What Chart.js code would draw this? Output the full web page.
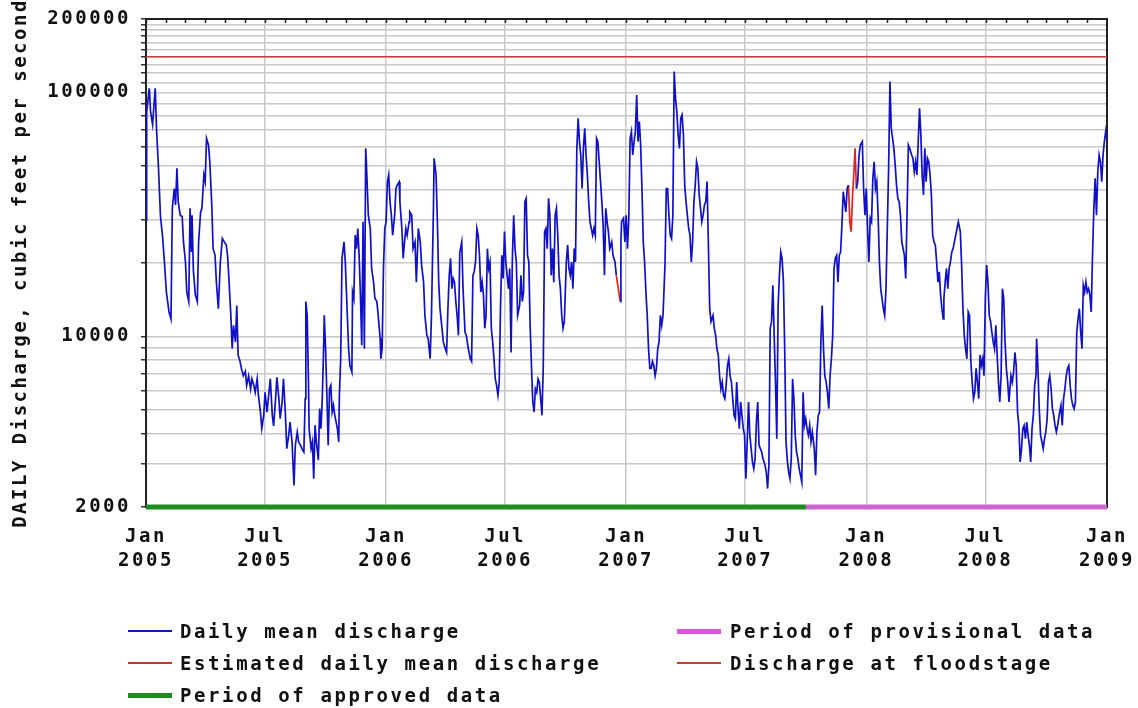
<!DOCTYPE html>
<html>
<head>
<meta charset="utf-8">
<title>Daily discharge 2005-2008</title>
<script src="https://cdn.jsdelivr.net/npm/chart.js@4.4.0/dist/chart.umd.min.js"></script>
<style>
  html, body { margin: 0; padding: 0; background: #fff; }
  #wrap { position: relative; width: 1138px; height: 708px; overflow: hidden; }
  #chart { position: absolute; left: 0; top: 0; }
  .item { position: absolute; height: 24px; white-space: nowrap;
          font: bold 19px "DejaVu Sans Mono", monospace; letter-spacing: 2.6px;
          color: #111; line-height: 24px; }
  .sw { position: absolute; left: 0; width: 44px; }
  .tx { position: absolute; }
</style>
</head>
<body>
<div id="wrap">
  <canvas id="chart" width="1138" height="708"></canvas>
  <div id="legend"></div>
</div>
<script>
// Days are counted from 1 January 2005; values are cubic feet per second.
const totalDays = 1461;

const tickDays   = [0, 181, 365, 546, 730, 911, 1095, 1276, 1461];
const tickMonths = ['Jan', 'Jul', 'Jan', 'Jul', 'Jan', 'Jul', 'Jan', 'Jul', 'Jan'];
const tickYears  = ['2005', '2005', '2006', '2006', '2007', '2007', '2008', '2008', '2009'];

const yLabelValues = [2000, 10000, 100000, 200000];

const floodStageCfs = 140000;
const approvedPeriod = [0, 1003];
const provisionalPeriod = [1003, 1461];

// [day, daily mean discharge]; null marks days carried by the estimated series
const dailyMean = [
  [0,30000],[1,83000],[5,104000],[7,83000],[10,74000],[14,104000],[16,71000],[19,49000],[22,31000],[25,26000],
  [28,20200],[31,15200],[35,12600],[38,11800],[40,33500],[43,40400],[45,34600],[47,48900],[49,35700],[52,31400],
  [55,31000],[57,24400],[60,20200],[62,15200],[65,13900],[67,33500],[69,22200],[70,31400],[72,18700],[75,14800],
  [78,13900],[80,24400],[83,32400],[85,33500],[88,45900],[90,43100],[92,64900],[95,60900],[97,52000],[100,34600],
  [102,22900],[105,21500],[107,16700],[110,13000],[113,20200],[116,25200],[119,24400],[122,23700],[124,21500],[126,17300],
  [129,12200],[131,8900],[133,11100],[136,9500],[138,13400],[140,8400],[143,7900],[145,7400],[148,6900],[151,7200],
  [153,6300],[156,6900],[159,6100],[161,6700],[164,6300],[166,5900],[169,6700],[171,5700],[174,4900],[176,4200],
  [179,4750],[181,5900],[184,4900],[186,5560],[189,6700],[192,4750],[194,4300],[197,5560],[199,6800],[202,5560],
  [204,4600],[207,5400],[209,6700],[212,4750],[214,3470],[217,3940],[219,4460],[222,3700],[225,2450],[227,3580],
  [230,4060],[232,3700],[235,3580],[237,3470],[240,3360],[242,5560],[243,13900],[245,12200],[247,6500],[248,4190],
  [251,3470],[253,3700],[255,2610],[257,4320],[259,3700],[262,3110],[264,5060],[266,4190],[268,5560],[270,8900],
  [271,12200],[273,8900],[275,5740],[277,3580],[279,6110],[281,6310],[283,4900],[285,5220],[287,4750],[289,4460],
  [291,4190],[293,3700],[294,5740],[296,8100],[298,20900],[301,24400],[303,20200],[305,14500],[308,8900],[310,7600],
  [313,7150],[314,15200],[316,14300],[318,26000],[320,22900],[322,27700],[324,21500],[326,14800],[328,9200],[330,29500],
  [332,8900],[334,59000],[335,52000],[338,31400],[341,27700],[343,19000],[346,16700],[348,14300],[351,13900],[353,12200],
  [356,9800],[357,8100],[359,8900],[361,19000],[363,27700],[365,29500],[367,43000],[369,45900],[371,35700],[373,31400],
  [375,26000],[378,31400],[380,40400],[382,41700],[385,43000],[386,35700],[389,27700],[391,20900],[393,24400],[395,27700],
  [397,26000],[400,29500],[401,32400],[404,31400],[406,22900],[409,24400],[411,16700],[414,27700],[417,24400],[419,19600],
  [422,16700],[424,12200],[427,10100],[429,9800],[432,8100],[434,12200],[437,33500],[438,53700],[441,45900],[443,29500],
  [445,16700],[447,13000],[450,10800],[452,9500],[455,8900],[457,8600],[459,13000],[461,17800],[463,20900],[465,15700],
  [467,17300],[469,16700],[471,13900],[473,12200],[475,10100],[477,22000],[480,24400],[482,15700],[485,10400],[487,10100],
  [490,8900],[493,8100],[495,7900],[497,17800],[499,18400],[501,20200],[503,27700],[505,26000],[507,21500],[509,15200],
  [511,16700],[513,14800],[515,10800],[517,12200],[519,22900],[521,19000],[523,20200],[525,10800],[527,9500],[529,8100],
  [531,6700],[533,6300],[535,5740],[537,6500],[539,13400],[541,21500],[543,17300],[545,26900],[547,20200],[549,17800],
  [551,15700],[553,19000],[555,8600],[557,20900],[559,31400],[561,22900],[563,20200],[565,12200],[568,13400],[570,17800],
  [572,13900],[574,15200],[576,35700],[578,36800],[580,21500],[582,20200],[584,11100],[586,7600],[588,5400],[590,4900],
  [592,6100],[594,5900],[596,6700],[598,6500],[600,5560],[602,4750],[604,7600],[606,26900],[608,27700],[610,22900],
  [612,36800],[614,31400],[616,17800],[618,22900],[620,16700],[622,31400],[624,33500],[626,26000],[628,17800],[630,15700],
  [632,12200],[634,10800],[636,11500],[639,20200],[641,23700],[643,19000],[645,17800],[647,20200],[649,15700],[651,22900],
  [653,20200],[655,59000],[657,78400],[659,62900],[661,55400],[663,40400],[665,59000],[667,71300],[669,55400],[671,45900],
  [673,35700],[675,29500],[677,27700],[679,26000],[681,27700],[683,26000],[685,64900],[687,62900],[689,52000],[691,43100],
  [693,35700],[695,28600],[697,17800],[699,33500],[701,29500],[703,26900],[705,22900],[708,24400],[710,21500],[713,20200],
  [715,17800],[718,null],[721,13900],[722,24400],[723,29500],[726,30500],[728,24400],[730,31400],[732,22900],[734,30500],
  [736,64900],[738,69100],[740,55400],[742,62900],[744,69100],[746,97700],[748,62900],[750,75900],[752,60900],[754,40400],
  [756,24400],[758,20200],[760,15200],[762,12200],[764,8900],[766,7400],[768,7400],[770,7900],[772,7600],[774,6900],
  [776,7400],[778,8900],[780,9500],[782,12200],[784,11100],[786,12200],[789,19600],[791,40400],[793,40400],[795,31400],
  [797,26000],[799,25200],[801,31400],[803,121800],[805,94700],[807,83500],[809,67000],[811,59000],[813,78400],[815,80900],
  [817,67000],[819,41700],[821,35700],[823,31400],[825,27700],[827,26000],[829,20200],[831,24400],[833,35700],[835,41700],
  [837,52000],[839,48900],[841,38000],[843,33500],[845,29500],[847,31400],[849,34600],[851,35700],[853,43100],[855,23700],
  [857,13000],[859,11500],[862,12200],[864,10800],[866,10100],[868,8900],[870,8400],[872,6900],[874,6100],[876,6500],
  [878,5740],[880,5560],[882,6300],[884,7600],[886,8100],[888,6900],[890,6500],[892,5560],[894,4750],[896,4600],
  [898,6500],[900,5060],[902,4190],[904,5390],[906,4750],[908,4190],[910,3940],[912,2610],[914,3700],[916,5390],
  [918,3940],[920,3470],[922,3060],[924,2870],[926,3160],[928,4460],[930,5390],[932,3580],[934,3470],[936,3360],
  [938,3160],[941,2970],[943,2780],[945,2380],[947,2970],[949,10800],[951,11500],[953,16200],[955,10100],[957,6500],
  [959,3810],[961,13400],[963,17800],[965,22200],[967,20900],[969,16900],[971,8900],[973,3700],[975,3100],[977,2780],
  [979,2610],[981,3160],[983,6700],[985,5560],[987,3940],[989,3360],[991,3160],[993,2870],[995,2700],[997,2530],
  [999,5900],[1001,4320],[1003,4600],[1005,4190],[1007,3940],[1009,4320],[1011,3700],[1013,4060],[1016,3470],[1018,2700],
  [1020,4060],[1022,4750],[1024,4900],[1026,9500],[1028,13400],[1030,8900],[1032,6900],[1034,6500],[1036,5900],[1038,5060],
  [1040,6900],[1042,8100],[1044,10100],[1046,19000],[1048,20900],[1050,21500],[1052,16700],[1054,21500],[1056,22200],[1058,28600],
  [1060,39200],[1062,35700],[1064,32400],[1066,40400],[1068,41700],[1074,null],[1080,40400],[1082,43100],[1084,55400],[1086,60900],
  [1089,62900],[1091,40400],[1093,31400],[1095,40400],[1097,27700],[1099,20200],[1101,30500],[1103,29500],[1105,44500],[1107,52000],
  [1109,40400],[1111,43100],[1113,31400],[1115,20200],[1117,15700],[1119,14300],[1121,13000],[1123,12200],[1125,15700],[1127,27700],
  [1129,48900],[1131,110800],[1133,71300],[1135,64900],[1137,59000],[1139,50400],[1141,41700],[1143,36800],[1145,35700],[1147,31400],
  [1149,24400],[1151,22900],[1153,21500],[1155,17300],[1157,31400],[1159,60900],[1161,59000],[1164,55400],[1166,53700],[1168,47300],
  [1170,52000],[1172,45900],[1174,62900],[1176,86100],[1178,67000],[1180,45900],[1182,38000],[1184,59000],[1186,43100],[1188,53700],
  [1190,52000],[1192,45900],[1194,38000],[1196,26000],[1198,24400],[1200,23700],[1202,20200],[1204,16700],[1206,18400],[1208,14800],
  [1210,13000],[1212,11800],[1213,14300],[1215,16700],[1217,19000],[1219,15700],[1221,19000],[1223,20200],[1225,22200],[1227,22900],
  [1229,24400],[1231,26000],[1233,27700],[1235,29500],[1238,26900],[1240,19600],[1242,13000],[1244,10100],[1246,8900],[1248,8100],
  [1250,12600],[1252,12200],[1254,7900],[1256,6500],[1258,5560],[1260,5900],[1262,7400],[1264,6500],[1266,5560],[1268,8400],
  [1270,7600],[1272,8100],[1274,6900],[1276,14300],[1278,19600],[1280,16700],[1282,12200],[1284,11500],[1286,10400],[1288,9500],
  [1290,8900],[1292,11100],[1294,8400],[1296,6500],[1298,5390],[1300,6900],[1302,15700],[1304,14300],[1306,9500],[1308,7400],
  [1310,6500],[1312,5390],[1315,6900],[1317,6500],[1319,7150],[1321,8600],[1323,7600],[1325,4900],[1327,4320],[1329,3060],
  [1331,3470],[1333,4190],[1335,4320],[1337,3810],[1339,4460],[1341,3940],[1343,3580],[1345,3060],[1347,4190],[1349,4750],
  [1351,6300],[1353,6900],[1354,9800],[1356,7400],[1358,5060],[1360,3940],[1362,3700],[1364,3470],[1366,3810],[1368,4060],
  [1370,4600],[1372,6500],[1374,6900],[1376,6100],[1378,5060],[1380,4750],[1382,4320],[1384,4060],[1386,4320],[1389,4900],
  [1391,5220],[1393,4320],[1395,5560],[1397,6100],[1399,6900],[1401,7400],[1403,7600],[1405,6300],[1407,5560],[1409,5220],
  [1411,5060],[1413,5390],[1415,10400],[1417,11800],[1419,13000],[1421,10400],[1423,8900],[1425,16200],[1427,15200],[1429,16700],
  [1431,15200],[1433,15700],[1435,14800],[1437,12600],[1439,21500],[1441,33500],[1443,44500],[1445,31400],[1447,47300],[1449,55400],
  [1451,52000],[1453,43100],[1455,55400],[1457,62900],[1459,69100],[1460,64900]
];

// [day, estimated daily mean discharge]; null separates the two estimated spells
const estimatedMean = [
  [715,17800],[718,15700],[721,13900],[900,null],
  [1068,41700],[1070,29500],[1072,26900],[1074,36800],[1076,45900],[1078,59000],[1080,40400]
];

const legendEntries = [
  { label: 'Daily mean discharge',           color: '#1414c8', thick: 2, col: 0, row: 0 },
  { label: 'Estimated daily mean discharge', color: '#d03030', thick: 2, col: 0, row: 1 },
  { label: 'Period of approved data',        color: '#1e8c1e', thick: 5, col: 0, row: 2 },
  { label: 'Period of provisional data',     color: '#dd55dd', thick: 5, col: 1, row: 0 },
  { label: 'Discharge at floodstage',        color: '#c83c3c', thick: 2, col: 1, row: 1 }
];

const FONT = '"DejaVu Sans Mono", monospace';
const gridValues = [];
for (let v = 2000; v <= 10000; v += 1000) gridValues.push(v);
for (let v = 20000; v <= 100000; v += 10000) gridValues.push(v);
for (let v = 110000; v <= 200000; v += 10000) gridValues.push(v);

const toPoints = arr => arr.map(([d, v]) => ({ x: d, y: v }));

// wide spacing for all canvas text
const spacingPlugin = {
  id: 'wideText',
  beforeUpdate(chart) { chart.ctx.letterSpacing = '2.5px'; },
  beforeDraw(chart) { chart.ctx.letterSpacing = '2.5px'; }
};

// plot frame and the monthly tick marks along its top edge
const framePlugin = {
  id: 'plotFrame',
  beforeDatasetsDraw(chart) {
    const { ctx, chartArea: a } = chart;
    const xs = chart.scales.x;
    ctx.save();
    ctx.strokeStyle = '#222';
    ctx.lineWidth = 2;
    ctx.strokeRect(a.left, a.top, a.right - a.left, a.bottom - a.top);
    ctx.lineWidth = 1.5;
    ctx.beginPath();
    for (let yr = 2005; yr <= 2008; yr++) {
      for (let m = 0; m < 12; m++) {
        const d = (Date.UTC(yr, m, 1) - Date.UTC(2005, 0, 1)) / 86400000;
        const px = Math.round(xs.getPixelForValue(d)) + 0.5;
        ctx.moveTo(px, a.top);
        ctx.lineTo(px, a.top + 4);
      }
    }
    ctx.stroke();
    ctx.restore();
  }
};

const axisFont = { family: FONT, size: 19, weight: 'bold' };

new Chart(document.getElementById('chart'), {
  type: 'line',
  data: {
    datasets: [
      { label: 'Discharge at floodstage',
        data: [{ x: 0, y: floodStageCfs }, { x: totalDays, y: floodStageCfs }],
        borderColor: '#c83c3c', borderWidth: 1.5 },
      { label: 'Daily mean discharge', data: toPoints(dailyMean),
        borderColor: '#1010c8', borderWidth: 1.7 },
      { label: 'Estimated daily mean discharge', data: toPoints(estimatedMean),
        borderColor: '#e02424', borderWidth: 1.7 },
      { label: 'Period of approved data',
        data: [{ x: approvedPeriod[0], y: 2000 }, { x: approvedPeriod[1], y: 2000 }],
        borderColor: '#1e8c1e', borderWidth: 5, clip: false },
      { label: 'Period of provisional data',
        data: [{ x: provisionalPeriod[0], y: 2000 }, { x: provisionalPeriod[1], y: 2000 }],
        borderColor: '#cc66cc', borderWidth: 5, clip: false }
    ]
  },
  options: {
    responsive: false,
    animation: false,
    parsing: false,
    spanGaps: false,
    elements: { point: { radius: 0 }, line: { tension: 0, borderCapStyle: 'butt' } },
    plugins: { legend: { display: false }, tooltip: { enabled: false } },
    layout: { padding: { left: 0, top: 19, right: 31, bottom: 131 } },
    scales: {
      x: {
        type: 'linear', min: 0, max: totalDays,
        afterBuildTicks: s => { s.ticks = tickDays.map(v => ({ value: v })); },
        afterFit: s => { s.height = 70; s.paddingLeft = 0; s.paddingRight = 0; },
        grid: { color: '#c8c8c8', lineWidth: 1.5, drawTicks: false },
        border: { display: false },
        ticks: {
          autoSkip: false, maxRotation: 0, minRotation: 0, padding: 18, color: '#111',
          font: Object.assign({ lineHeight: 24 / 19 }, axisFont),
          callback: (v, i) => [tickMonths[i], tickYears[i]]
        }
      },
      y: {
        type: 'logarithmic', min: 2000, max: 200000,
        afterBuildTicks: s => { s.ticks = gridValues.map(v => ({ value: v })); },
        afterFit: s => { s.width = 146; s.paddingTop = 0; s.paddingBottom = 0; },
        grid: { color: '#c8c8c8', lineWidth: 1.5, drawTicks: true, tickLength: 5, tickColor: '#333' },
        border: { display: false },
        ticks: {
          autoSkip: false, padding: 10, color: '#111', font: axisFont,
          callback: v => (yLabelValues.includes(v) ? String(v) : '')
        },
        title: {
          display: true, text: 'DAILY Discharge, cubic feet per second', color: '#111',
          font: axisFont, padding: { top: 10, bottom: 0 }
        }
      }
    }
  },
  plugins: [spacingPlugin, framePlugin]
});

// legend below the plot
const colLeft = [128, 677];
const rowMid = [631, 663, 695];
const legend = document.getElementById('legend');
legendEntries.forEach(e => {
  const item = document.createElement('div');
  item.className = 'item';
  item.style.left = colLeft[e.col] + 'px';
  item.style.top = (rowMid[e.row] - 12) + 'px';
  const sw = document.createElement('span');
  sw.className = 'sw';
  sw.style.background = e.color;
  sw.style.height = e.thick + 'px';
  sw.style.top = (12 - e.thick / 2) + 'px';
  const tx = document.createElement('span');
  tx.className = 'tx';
  tx.style.left = (e.col === 0 ? 52 : 53) + 'px';
  tx.textContent = e.label;
  item.appendChild(sw);
  item.appendChild(tx);
  legend.appendChild(item);
});
</script>
</body>
</html>
